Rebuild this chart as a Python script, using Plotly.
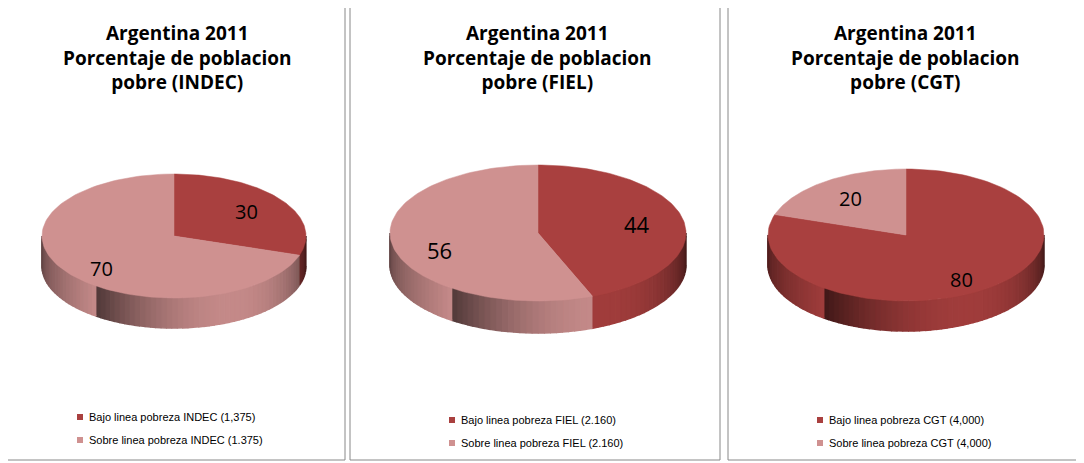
import numpy as np
import plotly.graph_objects as go

# datos
titles = ["Argentina 2011<br>Porcentaje de poblacion<br>pobre (INDEC)",
          "Argentina 2011<br>Porcentaje de poblacion<br>pobre (FIEL)",
          "Argentina 2011<br>Porcentaje de poblacion<br>pobre (CGT)"]
bajo = [30, 44, 80]
sobre = [70, 56, 20]
legend_bajo = ["Bajo linea pobreza INDEC (1,375)", "Bajo linea pobreza FIEL (2.160)",
               "Bajo linea pobreza CGT (4,000)"]
legend_sobre = ["Sobre linea pobreza INDEC (1.375)", "Sobre linea pobreza FIEL (2.160)",
                "Sobre linea pobreza CGT (4,000)"]

# layout en pixeles
panels = [(5, 345), (350, 720), (728, 1078)]
pies = [(174, 236, 132, 62, 30, 20), (538, 233, 148, 68, 32, 22), (906, 235, 138, 66, 30, 20)]
legend_xy = [(80, 417), (452, 420), (820, 420)]
DARK = (169, 64, 63)
LIGHT = (207, 145, 144)
OFF = 8  # margen del body de la pagina

fig = go.Figure()


def rgb(c, f):
    return "rgb(%d,%d,%d)" % tuple(min(255, int(v * f)) for v in c)


def side_factor(t):
    # t: angulo desde arriba en sentido horario, mitad frontal pi/2..3pi/2
    u = (t - np.pi / 2) / np.pi  # 0 derecha .. 1 izquierda
    return 0.35 + 0.6 * np.sin(np.pi * min(1, u * 1.4)) if u < 0.7 else 0.95 - (u - 0.7) * 1.6


for i, (cx, cy, rx, ry, d, fs) in enumerate(pies):
    vals = [bajo[i], sobre[i]]
    cols = [DARK, LIGHT]
    fr = np.cumsum([0] + vals) / sum(vals) * 2 * np.pi
    # lados
    for k in range(2):
        a0, a1 = max(fr[k], np.pi / 2), min(fr[k + 1], 3 * np.pi / 2)
        if a1 <= a0:
            continue
        edges = np.linspace(a0, a1, max(2, int((a1 - a0) / 0.04)))
        for t0, t1 in zip(edges[:-1], edges[1:]):
            tt = np.array([t0, t1])
            xs = cx + rx * np.sin(tt)
            ys = cy - ry * np.cos(tt)
            c = rgb(cols[k], side_factor((t0 + t1) / 2))
            fig.add_trace(go.Scatter(x=list(xs) + list(xs[::-1]), y=list(ys) + list(ys[::-1] + d),
                                     fill="toself", mode="lines", line=dict(width=1.5, color=c),
                                     fillcolor=c, hoverinfo="skip", showlegend=False))
    # caras superiores
    for k in range(2):
        tt = np.linspace(fr[k], fr[k + 1], 120)
        xs = np.concatenate([[cx], cx + rx * np.sin(tt), [cx]])
        ys = np.concatenate([[cy], cy - ry * np.cos(tt), [cy]])
        fig.add_trace(go.Scatter(x=xs, y=ys, fill="toself", mode="lines",
                                 line=dict(width=0.5, color=rgb(cols[k], 1)), fillcolor=rgb(cols[k], 1),
                                 hoverinfo="skip", showlegend=False))
        m = (fr[k] + fr[k + 1]) / 2
        fig.add_annotation(x=cx + 0.68 * rx * np.sin(m), y=cy - 0.68 * ry * np.cos(m) + (8 if np.cos(m) < 0 else 0),
                           text=str(vals[k]), showarrow=False, font=dict(size=fs, color="black"))
    # panel, titulo y leyenda
    x0, x1 = panels[i]
    fig.add_shape(type="rect", x0=x0, x1=x1, y0=3, y1=460, line=dict(color="#888888", width=1))
    fig.add_annotation(x=(x0 + x1) / 2 + 2, y=57, text="<b>" + titles[i] + "</b>", showarrow=False,
                       font=dict(size=19, color="black", family="Open Sans"))
    lx, ly = legend_xy[i]
    for j, (txt, c) in enumerate([(legend_bajo[i], DARK), (legend_sobre[i], LIGHT)]):
        yy = ly + j * 23
        fig.add_shape(type="rect", x0=lx - 3, x1=lx + 3, y0=yy - 3, y1=yy + 3, line=dict(width=0),
                      fillcolor=rgb(c, 1))
        fig.add_annotation(x=lx + 7, y=yy, text=txt, showarrow=False, xanchor="left",
                           font=dict(size=11, color="black", family="Liberation Sans"))

fig.update_layout(width=1084, height=463, margin=dict(l=0, r=0, t=0, b=0),
                  plot_bgcolor="white", paper_bgcolor="white",
                  xaxis=dict(range=[OFF, 1084 + OFF], visible=False, fixedrange=True),
                  yaxis=dict(range=[463 + OFF, OFF], visible=False, fixedrange=True))
fig.write_html("out.html")
